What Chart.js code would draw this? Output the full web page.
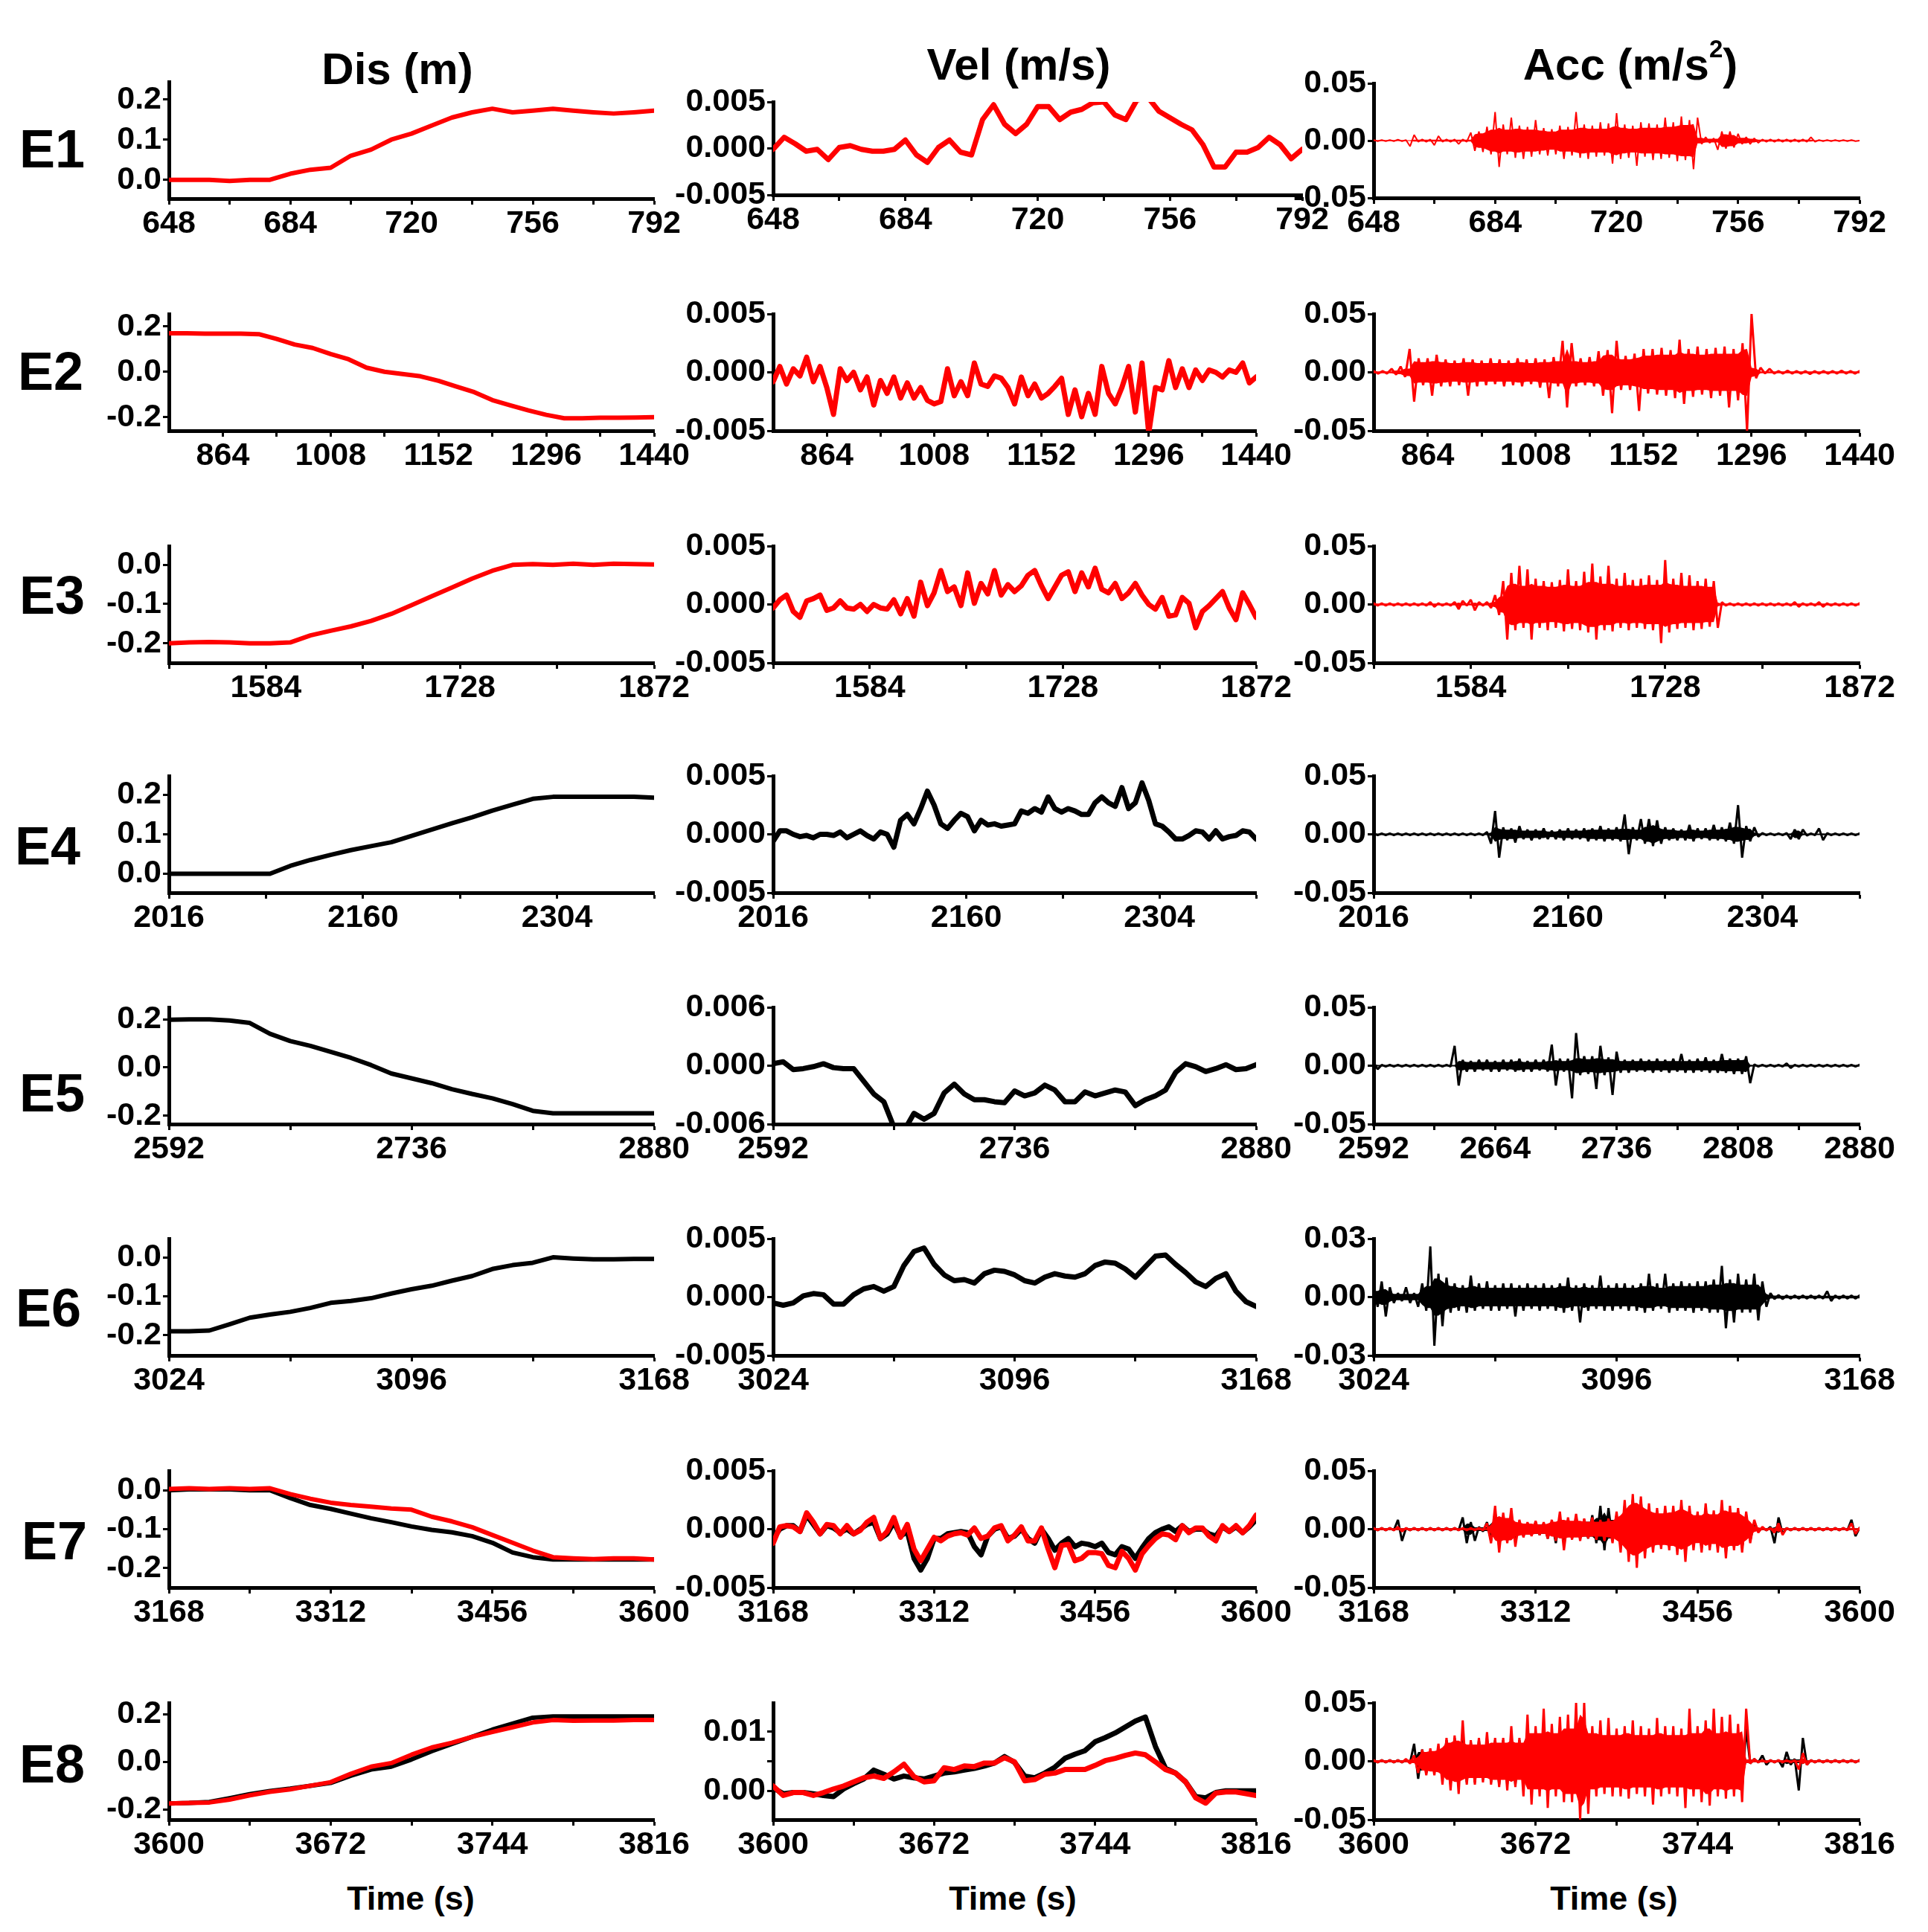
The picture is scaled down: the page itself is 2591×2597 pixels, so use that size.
<!DOCTYPE html>
<html>
<head>
<meta charset="utf-8">
<script src="https://cdn.jsdelivr.net/npm/chart.js@4.4.1/dist/chart.umd.min.js"></script>
<style>
    body { margin: 0; background: #fff; }
    #page { position: relative; width: 2591px; height: 2597px; background: #fff; overflow: hidden;
            font-family: "Liberation Sans", Arial, sans-serif; font-weight: bold; color: #000; }
    .lbl { position: absolute; transform: translate(-50%, -50%); white-space: nowrap; line-height: 1; }
    .lbl sup { font-size: 0.55em; vertical-align: 0.9em; line-height: 0; }
    canvas { position: absolute; }
</style>
</head>
<body>
<div id="page"></div>
<script>
const RED = "#ff0000";
const BLACK = "#000000";

const events = ["E1", "E2", "E3", "E4", "E5", "E6", "E7", "E8"];
const columnTitles = ["Dis (m)", "Vel (m/s)", "Acc (m/s<sup>2</sup>)"];
const xTitle = "Time (s)";

// time window of every event (s)
const timeRanges = [[648, 792], [792, 1440], [1512, 1872], [2016, 2376], [2592, 2880], [3024, 3168], [3168, 3600], [3600, 3816]];
const xMajorTicks = [
    [648, 684, 720, 756, 792], [864, 1008, 1152, 1296, 1440], [1584, 1728, 1872], [2016, 2160, 2304],
    [2592, 2736, 2880], [3024, 3096, 3168], [3168, 3312, 3456, 3600], [3600, 3672, 3744, 3816]
];
const xMinorTicks = [
    [666, 702, 738, 774], [936, 1080, 1224, 1368], [1512, 1656, 1800], [2088, 2232, 2376],
    [2664, 2808], [3060, 3132], [3240, 3384, 3528], [3636, 3708, 3780]
];
const accE5MajorTicks = [2592, 2664, 2736, 2808, 2880];
const accE5MinorTicks = [2628, 2700, 2772, 2844];

// y axes
const disRanges = [[-0.047, 0.244], [-0.26, 0.255], [-0.25, 0.048], [-0.048, 0.248], [-0.235, 0.25], [-0.252, 0.048], [-0.25, 0.05], [-0.242, 0.247]];
const disMajorTicks = [[0, 0.1, 0.2], [-0.2, 0, 0.2], [-0.2, -0.1, 0], [0, 0.1, 0.2], [-0.2, 0, 0.2], [-0.2, -0.1, 0], [-0.2, -0.1, 0], [-0.2, 0, 0.2]];
const disMinorTicks = [[0.05, 0.15], [-0.1, 0.1], [-0.15, -0.05], [0.05, 0.15], [-0.1, 0.1], [-0.15, -0.05], [-0.15, -0.05], [-0.1, 0.1]];
const velRanges = [[-0.005, 0.005], [-0.005, 0.005], [-0.005, 0.005], [-0.005, 0.005], [-0.006, 0.006], [-0.005, 0.005], [-0.005, 0.005], [-0.0049, 0.0149]];
const velMajorTicks = [[-0.005, 0, 0.005], [-0.005, 0, 0.005], [-0.005, 0, 0.005], [-0.005, 0, 0.005], [-0.006, 0, 0.006], [-0.005, 0, 0.005], [-0.005, 0, 0.005], [0, 0.01]];
const velMinorTicks = [[-0.0025, 0.0025], [-0.0025, 0.0025], [-0.0025, 0.0025], [-0.0025, 0.0025], [-0.003, 0.003], [-0.0025, 0.0025], [-0.0025, 0.0025], [0.005]];
const velDecimals = [3, 3, 3, 3, 3, 3, 3, 2];
const accRanges = [[-0.05, 0.05], [-0.05, 0.05], [-0.05, 0.05], [-0.05, 0.05], [-0.05, 0.05], [-0.03, 0.03], [-0.05, 0.05], [-0.05, 0.05]];
const accMajorTicks = [[-0.05, 0, 0.05], [-0.05, 0, 0.05], [-0.05, 0, 0.05], [-0.05, 0, 0.05], [-0.05, 0, 0.05], [-0.03, 0, 0.03], [-0.05, 0, 0.05], [-0.05, 0, 0.05]];
const accMinorTicks = [[-0.025, 0.025], [-0.025, 0.025], [-0.025, 0.025], [-0.025, 0.025], [-0.025, 0.025], [-0.015, 0.015], [-0.025, 0.025], [-0.025, 0.025]];

// displacement (m), evenly spaced over each time window
const disE1 = [0, 0, 0, -0.003, 0, 0, 0.015, 0.025, 0.03, 0.06, 0.075, 0.1, 0.115, 0.135, 0.155, 0.168, 0.177, 0.168, 0.172, 0.177, 0.172, 0.168, 0.165, 0.168, 0.172];
const disE2 = [0.17, 0.17, 0.168, 0.168, 0.168, 0.166, 0.145, 0.12, 0.105, 0.078, 0.055, 0.018, 0, -0.01, -0.02, -0.04, -0.065, -0.09, -0.125, -0.148, -0.17, -0.19, -0.205, -0.205, -0.203, -0.203, -0.202, -0.2];
const disE3 = [-0.2, -0.198, -0.197, -0.198, -0.2, -0.2, -0.198, -0.18, -0.168, -0.157, -0.143, -0.125, -0.103, -0.08, -0.058, -0.035, -0.015, 0, 0.002, 0, 0.003, 0, 0.003, 0.002, 0.001];
const disE4 = [0, 0, 0, 0, 0, 0, 0.02, 0.035, 0.048, 0.06, 0.07, 0.08, 0.096, 0.112, 0.128, 0.143, 0.16, 0.175, 0.19, 0.195, 0.195, 0.195, 0.195, 0.195, 0.193];
const disE5 = [0.198, 0.2, 0.2, 0.195, 0.185, 0.14, 0.11, 0.09, 0.065, 0.04, 0.01, -0.025, -0.045, -0.065, -0.09, -0.11, -0.128, -0.152, -0.18, -0.19, -0.19, -0.19, -0.19, -0.19, -0.19];
const disE6 = [-0.19, -0.19, -0.188, -0.172, -0.155, -0.147, -0.14, -0.13, -0.117, -0.112, -0.105, -0.093, -0.082, -0.073, -0.06, -0.048, -0.03, -0.02, -0.014, 0, -0.003, -0.005, -0.005, -0.004, -0.004];
const disE7Black = [0, 0.002, 0.002, 0.002, 0, 0, -0.02, -0.038, -0.048, -0.06, -0.072, -0.082, -0.093, -0.102, -0.108, -0.118, -0.135, -0.16, -0.172, -0.178, -0.178, -0.178, -0.178, -0.178, -0.178];
const disE7Red = [0.003, 0.005, 0.003, 0.005, 0.003, 0.005, -0.01, -0.022, -0.032, -0.038, -0.042, -0.047, -0.05, -0.068, -0.08, -0.095, -0.115, -0.135, -0.155, -0.172, -0.175, -0.177, -0.175, -0.175, -0.178];
const disE8Black = [-0.174, -0.172, -0.168, -0.152, -0.135, -0.122, -0.112, -0.1, -0.088, -0.058, -0.032, -0.02, 0.01, 0.045, 0.075, 0.105, 0.135, 0.16, 0.185, 0.19, 0.19, 0.19, 0.19, 0.19, 0.19];
const disE8Red = [-0.174, -0.172, -0.17, -0.158, -0.14, -0.125, -0.115, -0.1, -0.085, -0.05, -0.02, -0.005, 0.03, 0.06, 0.08, 0.105, 0.125, 0.145, 0.165, 0.175, 0.172, 0.173, 0.173, 0.175, 0.175];

// velocity (m/s)
const velE1 = [-0.0001, 0.0012, 0.0005, -0.0003, -0.0001, -0.0012, 0.0001, 0.0003, -0.0001, -0.0003, -0.0003, -0.0001, 0.0009, -0.0007, -0.0015, 0.0001, 0.0009, -0.0004, -0.0007, 0.0031, 0.0047, 0.0026, 0.0016, 0.0026, 0.0045, 0.0045, 0.0031, 0.0039, 0.0042, 0.0049, 0.005, 0.0036, 0.0031, 0.0052, 0.0055, 0.004, 0.0033, 0.0026, 0.002, 0.0004, -0.002, -0.002, -0.0004, -0.0004, 0.0001, 0.0012, 0.0004, -0.0011, -0.0001];
const velE2 = [-0.0008, 0.0005, -0.001, 0.0003, -0.0003, 0.0013, -0.0008, 0.0005, -0.0013, -0.0036,
    0.0003, -0.0007, 0, -0.0015, -0.0004, -0.0028, -0.0007, -0.0018, -0.0004, -0.0022,
    -0.0009, -0.0022, -0.0013, -0.0024, -0.0027, -0.0025, 0.0003, -0.002, -0.0008, -0.002,
    0.0008, -0.001, -0.0012, -0.0003, -0.0005, -0.0013, -0.0027, -0.0004, -0.002, -0.001,
    -0.0022, -0.0018, -0.0012, -0.0005, -0.0036, -0.0015, -0.0038, -0.0018, -0.0036, 0.0005,
    -0.0018, -0.0027, -0.0013, 0.0005, -0.0034, 0.0008, -0.0052, -0.0013, -0.0015, 0.001,
    -0.0013, 0.0003, -0.0013, 0.0002, -0.0007, 0.0002, 0, -0.0004, 0.0002, 0,
    0.0008, -0.0009, -0.0004];
const velE3 = [-0.0003, 0.0004, 0.0008, -0.0006, -0.0011, 0.0003, 0.0005, 0.0008, -0.0005, -0.0003,
    0.0003, -0.0003, -0.0004, 0, -0.0006, 0, -0.0003, -0.0004, 0.0004, -0.0008,
    0.0005, -0.001, 0.0019, -0.0001, 0.001, 0.0029, 0.0011, 0.0015, -0.0001, 0.0027,
    0.0001, 0.0018, 0.0009, 0.0029, 0.0008, 0.0017, 0.0011, 0.0016, 0.0025, 0.0029,
    0.0016, 0.0005, 0.0015, 0.0025, 0.0028, 0.0011, 0.0027, 0.0015, 0.0031, 0.0013,
    0.001, 0.0018, 0.0005, 0.001, 0.0018, 0.0008, 0, -0.0004, 0.0006, -0.001,
    -0.0009, 0.0006, 0.0001, -0.002, -0.0006, -0.0001, 0.0005, 0.0011, -0.0003, -0.0013,
    0.001, 0, -0.0011];
const velE4 = [-0.0006, 0.0003, 0.0003, 0, -0.0002, -0.0001, -0.0003, 0, 0, -0.0001,
    0.0002, -0.0003, 0, 0.0003, -0.0001, -0.0004, 0.0002, 0, -0.0011, 0.0012,
    0.0017, 0.0009, 0.0022, 0.0037, 0.0025, 0.0009, 0.0005, 0.0012, 0.0018, 0.0015,
    0.0003, 0.0012, 0.0008, 0.0009, 0.0007, 0.0008, 0.0009, 0.002, 0.0018, 0.0022,
    0.0019, 0.0032, 0.0022, 0.0019, 0.0022, 0.002, 0.0017, 0.0017, 0.0027, 0.0032,
    0.0027, 0.0024, 0.004, 0.0022, 0.0027, 0.0044, 0.0029, 0.0009, 0.0007, 0.0002,
    -0.0004, -0.0004, -0.0001, 0.0003, 0.0002, -0.0004, 0.0003, -0.0004, -0.0002, -0.0001,
    0.0003, 0.0002, -0.0004];
const velE5 = [0.0002, 0.0004, -0.0004, -0.0003, -0.0001, 0.0002, -0.0002, -0.0003, -0.0003, -0.0016,
    -0.0029, -0.0037, -0.0063, -0.0067, -0.0049, -0.0055, -0.0049, -0.0028, -0.0019, -0.0029,
    -0.0035, -0.0035, -0.0037, -0.0038, -0.0026, -0.0031, -0.0028, -0.002, -0.0025, -0.0037,
    -0.0037, -0.0027, -0.0031, -0.0028, -0.0025, -0.0027, -0.0041, -0.0035, -0.0031, -0.0025,
    -0.0007, 0.0002, -0.0001, -0.0006, -0.0003, 0.0001, -0.0004, -0.0003, 0.0001];
const velE6 = [-0.0005, -0.0007, -0.0005, 0.0001, 0.0003, 0.0002, -0.0006, -0.0006, 0.0002, 0.0007,
    0.0009, 0.0005, 0.0009, 0.0027, 0.0039, 0.0042, 0.0028, 0.0019, 0.0014, 0.0015,
    0.0012, 0.002, 0.0023, 0.0022, 0.0019, 0.0014, 0.0012, 0.0017, 0.002, 0.0018,
    0.0017, 0.002, 0.0027, 0.003, 0.0029, 0.0024, 0.0017, 0.0026, 0.0035, 0.0036,
    0.0028, 0.0021, 0.0013, 0.0009, 0.0016, 0.002, 0.0005, -0.0004, -0.0008];
const velE7Red = [-0.0012, 0.0002, 0.0003, 0.0002, -0.0002, 0.0014, 0.0006, -0.0004, 0.0004, 0.0003,
    -0.0004, 0.0003, -0.0004, -0.0001, 0.0006, 0.001, -0.0008, -0.0002, 0.001, -0.0007,
    0.0004, -0.0017, -0.0027, -0.0017, -0.0007, -0.001, -0.0006, -0.0004, -0.0003, -0.0005,
    0.0001, -0.0008, -0.0006, 0.0001, 0.0003, -0.001, -0.0005, 0.0002, -0.001, -0.001,
    0.0001, -0.0017, -0.0033, -0.0014, -0.0013, -0.0027, -0.0025, -0.002, -0.002, -0.0021,
    -0.0031, -0.0033, -0.0019, -0.0025, -0.0035, -0.0021, -0.0014, -0.0008, -0.0004, -0.0005,
    -0.0009, 0.0003, -0.0003, 0.0001, 0.0001, -0.0006, -0.001, 0.0003, -0.0002, 0.0003,
    -0.0003, 0.0003, 0.0012];
const velE7Black = [-0.0008, 0, 0.0003, 0.0003, -0.0002, 0.0012, 0.0004, -0.0004, 0.0003, 0.0001,
    -0.0003, 0, -0.0004, 0, 0.0004, 0.0006, -0.0008, -0.0004, 0.0006, -0.0006,
    -0.0002, -0.0025, -0.0035, -0.0025, -0.0008, -0.0008, -0.0004, -0.0003, -0.0002, -0.0003,
    -0.0015, -0.0022, -0.0006, 0, 0.0002, -0.0008, -0.0006, 0, -0.0008, -0.0012,
    0, -0.0008, -0.0018, -0.0012, -0.0008, -0.0015, -0.0012, -0.0013, -0.0015, -0.0012,
    -0.002, -0.0022, -0.0015, -0.0017, -0.0025, -0.0016, -0.0008, -0.0003, 0, 0.0002,
    -0.0002, 0.0003, -0.0002, 0, 0, -0.0004, -0.0006, 0.0002, -0.0002, 0.0002,
    -0.0003, 0.0002, 0.0008];
const velE8Red = [0.0008, -0.0008, -0.0003, -0.0003, -0.0008, -0.0003, 0.0003, 0.0008, 0.0015, 0.0022,
    0.0025, 0.0021, 0.0032, 0.0045, 0.0024, 0.0015, 0.0017, 0.0039, 0.0036, 0.0042,
    0.0041, 0.0047, 0.0047, 0.0056, 0.0049, 0.0017, 0.0019, 0.0028, 0.003, 0.0036,
    0.0036, 0.0036, 0.0043, 0.0051, 0.0055, 0.006, 0.0064, 0.0061, 0.0049, 0.0036,
    0.003, 0.0015, -0.0012, -0.0021, -0.0004, -0.0002, -0.0002, -0.0005, -0.0008];
const velE8Black = [0.0005, -0.0005, -0.0003, -0.0003, -0.0005, -0.0008, -0.001, 0.0003, 0.0012, 0.002,
    0.0035, 0.0028, 0.002, 0.0025, 0.0022, 0.002, 0.0025, 0.003, 0.0032, 0.0035,
    0.0038, 0.0042, 0.0047, 0.0058, 0.0048, 0.0025, 0.0022, 0.003, 0.004, 0.0055,
    0.0062, 0.0068, 0.0083, 0.009, 0.0098, 0.0108, 0.0118, 0.0125, 0.0075, 0.0038,
    0.003, 0.0015, -0.001, -0.0012, -0.0003, 0, 0, 0, 0];

// acceleration (m/s2)
const accE1 = [0.0005, -0.0005, 0.0005, -0.0005, 0.0005, -0.0005, 0.0008, -0.0005, 0.0005, -0.005,
    0.005, -0.001, 0.001, -0.001, 0.001, -0.004, 0.004, -0.001, 0.001, -0.001,
    0.001, -0.003, 0.001, -0.001, 0.007, -0.009, 0.008, -0.01, 0.012, -0.012,
    0.025, -0.023, 0.014, -0.012, 0.02, -0.015, 0.013, -0.016, 0.012, -0.014,
    0.018, -0.012, 0.011, -0.013, 0.01, -0.012, 0.013, -0.016, 0.012, -0.013,
    0.025, -0.015, 0.014, -0.016, 0.013, -0.014, 0.016, -0.013, 0.015, -0.02,
    0.024, -0.016, 0.014, -0.015, 0.013, -0.022, 0.016, -0.014, 0.015, -0.017,
    0.014, -0.016, 0.02, -0.015, 0.016, -0.018, 0.021, -0.017, 0.018, -0.025,
    0.02, -0.003, 0.003, -0.002, 0.002, -0.008, 0.008, -0.007, 0.008, -0.006,
    0.006, -0.003, 0.003, -0.003, 0.002, -0.002, 0.001, -0.001, 0.001, -0.001,
    0.001, -0.001, 0.001, -0.001, 0.001, -0.001, 0.001, -0.001, 0.003, -0.001,
    0.0005, -0.0005, 0.0005, -0.0005, 0.0005, -0.0005, 0.0005, -0.0005, 0.0005, -0.0005,
    0];
const accE2 = [0.001, -0.001, 0.001, -0.001, 0.003, -0.002, 0.005, -0.004, 0.02, -0.025,
    0.012, -0.011, 0.012, -0.02, 0.015, -0.012, 0.011, -0.012, 0.01, -0.011,
    0.012, -0.02, 0.011, -0.012, 0.01, -0.011, 0.012, -0.01, 0.011, -0.012,
    0.01, -0.011, 0.012, -0.012, 0.011, -0.01, 0.012, -0.013, 0.011, -0.022,
    0.013, -0.012, 0.027, -0.03, 0.025, -0.012, 0.012, -0.011, 0.013, -0.012,
    0.018, -0.02, 0.019, -0.035, 0.027, -0.015, 0.014, -0.015, 0.016, -0.033,
    0.02, -0.018, 0.02, -0.019, 0.021, -0.02, 0.019, -0.022, 0.028, -0.027,
    0.02, -0.021, 0.022, -0.019, 0.02, -0.022, 0.021, -0.02, 0.022, -0.03,
    0.02, -0.024, 0.025, -0.05, 0.05, -0.005, 0.004, -0.001, 0.003, -0.001,
    0.001, -0.001, 0.0015, -0.001, 0.001, -0.001, 0.001, -0.0015, 0.001, -0.001,
    0.001, -0.001, 0.001, -0.001, 0.0015, -0.001, 0.001, -0.001, 0.001];
const accE3 = [0.001, -0.001, 0.001, -0.001, 0.001, -0.001, 0.001, -0.001, 0.001, -0.001,
    0.001, -0.001, 0.001, -0.001, 0.002, -0.002, 0.001, -0.001, 0.001, -0.001,
    0.002, -0.004, 0.003, -0.001, 0.004, -0.005, 0.002, -0.001, 0.002, -0.003,
    0.008, -0.009, 0.02, -0.03, 0.027, -0.022, 0.033, -0.02, 0.03, -0.03,
    0.022, -0.02, 0.02, -0.022, 0.019, -0.02, 0.021, -0.023, 0.03, -0.021,
    0.02, -0.022, 0.028, -0.024, 0.035, -0.03, 0.024, -0.022, 0.033, -0.023,
    0.022, -0.02, 0.027, -0.022, 0.021, -0.02, 0.022, -0.021, 0.025, -0.022,
    0.021, -0.033, 0.038, -0.024, 0.022, -0.021, 0.027, -0.02, 0.025, -0.022,
    0.02, -0.021, 0.022, -0.019, 0.02, -0.02, 0.002, -0.001, 0.001, -0.001,
    0.001, -0.001, 0.001, -0.001, 0.001, -0.001, 0.001, -0.001, 0.001, -0.001,
    0.001, -0.001, 0.001, -0.001, 0.002, -0.002, 0.001, -0.001, 0.001, -0.001,
    0.002, -0.002, 0.001, -0.001, 0.001, -0.001, 0.001, -0.001, 0.001, -0.001,
    0.001];
const accE4 = [0.0007, -0.0007, 0.0007, -0.0007, 0.0007, -0.0007, 0.0007, -0.0007, 0.0007, -0.0007,
    0.0007, -0.0007, 0.0007, -0.0007, 0.0007, -0.0007, 0.0007, -0.0007, 0.0007, -0.0007,
    0.0007, -0.0007, 0.0007, -0.0007, 0.0007, -0.0007, 0.0007, -0.0007, 0.002, -0.008,
    0.02, -0.02, 0.006, -0.005, 0.005, -0.007, 0.007, -0.004, 0.004, -0.005,
    0.004, -0.004, 0.005, -0.004, 0.003, -0.004, 0.004, -0.005, 0.005, -0.004,
    0.004, -0.004, 0.005, -0.006, 0.005, -0.005, 0.007, -0.006, 0.005, -0.005,
    0.006, -0.006, 0.017, -0.017, 0.006, -0.005, 0.013, -0.008, 0.013, -0.01,
    0.012, -0.008, 0.006, -0.005, 0.005, -0.005, 0.004, -0.005, 0.008, -0.006,
    0.005, -0.004, 0.005, -0.005, 0.008, -0.005, 0.006, -0.006, 0.01, -0.008,
    0.025, -0.02, 0.007, -0.006, 0.006, -0.002, 0.001, -0.0007, 0.0007, -0.0007,
    0.0007, -0.0007, 0.001, -0.004, 0.004, -0.004, 0.004, -0.001, 0.0007, -0.0007,
    0.005, -0.005, 0.001, -0.0007, 0.0007, -0.0007, 0.0007, -0.0007, 0.0007, -0.0007,
    0.0007];
const accE5 = [0.002, -0.003, 0.0007, -0.0007, 0.0007, -0.0007, 0.0007, -0.0007, 0.0007, -0.0007,
    0.0007, -0.0007, 0.0007, -0.0007, 0.0007, -0.0007, 0.0007, -0.0007, 0.0007, -0.0007,
    0.017, -0.017, 0.005, -0.005, 0.004, -0.005, 0.005, -0.004, 0.005, -0.005,
    0.004, -0.005, 0.005, -0.004, 0.005, -0.005, 0.006, -0.005, 0.004, -0.005,
    0.005, -0.004, 0.005, -0.005, 0.018, -0.017, 0.006, -0.005, 0.006, -0.028,
    0.028, -0.008, 0.008, -0.007, 0.008, -0.02, 0.017, -0.008, 0.007, -0.025,
    0.012, -0.006, 0.005, -0.006, 0.005, -0.005, 0.006, -0.005, 0.005, -0.006,
    0.006, -0.005, 0.005, -0.006, 0.006, -0.005, 0.01, -0.006, 0.005, -0.006,
    0.006, -0.005, 0.007, -0.006, 0.005, -0.006, 0.01, -0.006, 0.006, -0.007,
    0.006, -0.007, 0.008, -0.015, 0.001, -0.0007, 0.0007, -0.0007, 0.0007, -0.0007,
    0.0007, -0.0007, 0.002, -0.002, 0.0007, -0.0007, 0.0007, -0.0007, 0.0007, -0.0007,
    0.0007, -0.0007, 0.0007, -0.0007, 0.0007, -0.0007, 0.0007, -0.0007, 0.0007, -0.0007,
    0.0007];
const accE6 = [0.004, -0.005, 0.008, -0.01, 0.005, -0.003, 0.002, -0.002, 0.005, -0.003,
    0.002, -0.005, 0.007, -0.007, 0.026, -0.025, 0.012, -0.015, 0.01, -0.008,
    0.007, -0.007, 0.006, -0.008, 0.011, -0.007, 0.007, -0.006, 0.008, -0.007,
    0.006, -0.007, 0.007, -0.006, 0.007, -0.01, 0.006, -0.007, 0.007, -0.006,
    0.006, -0.007, 0.007, -0.006, 0.006, -0.007, 0.007, -0.008, 0.01, -0.007,
    0.006, -0.013, 0.007, -0.007, 0.006, -0.006, 0.011, -0.007, 0.006, -0.007,
    0.007, -0.006, 0.007, -0.007, 0.006, -0.007, 0.007, -0.008, 0.012, -0.007,
    0.007, -0.006, 0.012, -0.008, 0.007, -0.007, 0.008, -0.007, 0.007, -0.008,
    0.008, -0.007, 0.008, -0.008, 0.009, -0.008, 0.016, -0.016, 0.009, -0.013,
    0.012, -0.008, 0.009, -0.008, 0.012, -0.012, 0.008, -0.005, 0.002, -0.001,
    0.001, -0.001, 0.0008, -0.0008, 0.0008, -0.0008, 0.0008, -0.0008, 0.0008, -0.0008,
    0.0008, -0.0008, 0.003, -0.002, 0.0008, -0.0008, 0.0008, -0.0008, 0.0008, -0.0008,
    0.0008];
const accE7Red = [0.001, -0.001, 0.001, -0.001, 0.001, -0.001, 0.002, -0.002, 0.001, -0.001,
    0.001, -0.001, 0.001, -0.001, 0.001, -0.001, 0.001, -0.001, 0.001, -0.001,
    0.001, -0.001, 0.001, -0.001, 0.001, -0.001, 0.001, -0.001, 0.005, -0.012,
    0.02, -0.02, 0.014, -0.012, 0.018, -0.015, 0.008, -0.007, 0.006, -0.006,
    0.007, -0.005, 0.006, -0.008, 0.008, -0.01, 0.015, -0.018, 0.01, -0.009,
    0.013, -0.01, 0.009, -0.008, 0.01, -0.009, 0.008, -0.01, 0.009, -0.012,
    0.015, -0.02, 0.025, -0.028, 0.03, -0.033, 0.028, -0.025, 0.022, -0.02,
    0.018, -0.017, 0.02, -0.018, 0.02, -0.022, 0.025, -0.028, 0.02, -0.018,
    0.015, -0.02, 0.022, -0.018, 0.016, -0.02, 0.025, -0.025, 0.02, -0.018,
    0.018, -0.02, 0.015, -0.012, 0.008, -0.003, 0.002, -0.001, 0.001, -0.003,
    0.005, -0.005, 0.001, -0.001, 0.001, -0.001, 0.001, -0.001, 0.001, -0.001,
    0.001, -0.001, 0.001, -0.001, 0.001, -0.001, 0.001, -0.001, 0.005, -0.004,
    0.001];
const accE7Black = [0.001, -0.001, 0.001, -0.001, 0.001, -0.001, 0.008, -0.01, 0.001, -0.001,
    0.001, -0.001, 0.001, -0.001, 0.001, -0.001, 0.001, -0.001, 0.001, -0.001,
    0.001, -0.001, 0.01, -0.012, 0.006, -0.01, 0.002, -0.002, 0.006, -0.01,
    0.015, -0.015, 0.01, -0.01, 0.012, -0.01, 0.006, -0.006, 0.005, -0.005,
    0.006, -0.005, 0.005, -0.008, 0.006, -0.012, 0.01, -0.012, 0.008, -0.008,
    0.01, -0.008, 0.008, -0.008, 0.012, -0.012, 0.02, -0.018, 0.018, -0.01,
    0.012, -0.015, 0.02, -0.022, 0.025, -0.025, 0.025, -0.02, 0.018, -0.016,
    0.015, -0.014, 0.016, -0.015, 0.016, -0.018, 0.02, -0.022, 0.016, -0.015,
    0.012, -0.016, 0.018, -0.015, 0.013, -0.016, 0.02, -0.02, 0.016, -0.015,
    0.015, -0.016, 0.012, -0.01, 0.006, -0.002, 0.001, -0.001, 0.002, -0.012,
    0.01, -0.004, 0.001, -0.001, 0.001, -0.001, 0.001, -0.001, 0.001, -0.001,
    0.001, -0.001, 0.001, -0.001, 0.001, -0.001, 0.001, -0.001, 0.008, -0.006,
    0.001];
const accE8Red = [0.001, -0.001, 0.001, -0.001, 0.001, -0.001, 0.001, -0.001, 0.002, -0.002,
    0.005, -0.01, 0.01, -0.012, 0.011, -0.012, 0.015, -0.02, 0.02, -0.025,
    0.022, -0.028, 0.035, -0.02, 0.018, -0.02, 0.02, -0.018, 0.025, -0.02,
    0.02, -0.022, 0.02, -0.025, 0.03, -0.022, 0.02, -0.03, 0.04, -0.037,
    0.03, -0.03, 0.045, -0.04, 0.032, -0.03, 0.038, -0.035, 0.04, -0.035,
    0.05, -0.05, 0.05, -0.045, 0.03, -0.03, 0.035, -0.028, 0.037, -0.03,
    0.028, -0.03, 0.03, -0.032, 0.035, -0.028, 0.03, -0.03, 0.028, -0.037,
    0.037, -0.03, 0.03, -0.028, 0.03, -0.03, 0.028, -0.04, 0.045, -0.03,
    0.03, -0.035, 0.035, -0.038, 0.045, -0.03, 0.038, -0.032, 0.04, -0.03,
    0.032, -0.035, 0.045, -0.002, 0.002, -0.001, 0.001, -0.001, 0.001, -0.001,
    0.001, -0.001, 0.001, -0.001, 0.001, -0.007, 0.007, -0.003, 0.001, -0.001,
    0.001, -0.001, 0.001, -0.001, 0.001, -0.001, 0.001, -0.001, 0.001, -0.001,
    0.001];
const accE8Black = [0.001, -0.001, 0.001, -0.001, 0.001, -0.001, 0.001, -0.001, 0.001, -0.001,
    0.015, -0.015, 0.01, -0.01, 0.008, -0.008, 0.008, -0.008, 0.018, -0.02,
    0.02, -0.02, 0.022, -0.018, 0.016, -0.018, 0.018, -0.016, 0.02, -0.018,
    0.018, -0.02, 0.018, -0.02, 0.022, -0.02, 0.018, -0.022, 0.025, -0.025,
    0.022, -0.022, 0.028, -0.025, 0.022, -0.02, 0.025, -0.022, 0.025, -0.022,
    0.03, -0.03, 0.03, -0.028, 0.022, -0.02, 0.024, -0.02, 0.025, -0.02,
    0.02, -0.022, 0.02, -0.022, 0.024, -0.02, 0.02, -0.022, 0.02, -0.024,
    0.025, -0.02, 0.02, -0.02, 0.022, -0.02, 0.02, -0.025, 0.028, -0.022,
    0.02, -0.024, 0.024, -0.025, 0.028, -0.02, 0.025, -0.022, 0.025, -0.02,
    0.022, -0.024, 0.028, -0.002, 0.002, -0.001, 0.005, -0.003, 0.001, -0.001,
    0.001, -0.005, 0.008, -0.003, 0.002, -0.025, 0.02, -0.003, 0.001, -0.001,
    0.001, -0.001, 0.001, -0.001, 0.001, -0.001, 0.001, -0.001, 0.001, -0.001,
    0.001];

// red series first so it is painted above black
const disSeries = [
    [[disE1, RED]], [[disE2, RED]], [[disE3, RED]], [[disE4, BLACK]], [[disE5, BLACK]], [[disE6, BLACK]],
    [[disE7Red, RED], [disE7Black, BLACK]], [[disE8Red, RED], [disE8Black, BLACK]]
];
const velSeries = [
    [[velE1, RED]], [[velE2, RED]], [[velE3, RED]], [[velE4, BLACK]], [[velE5, BLACK]], [[velE6, BLACK]],
    [[velE7Red, RED], [velE7Black, BLACK]], [[velE8Red, RED], [velE8Black, BLACK]]
];
const accSeries = [
    [[accE1, RED]], [[accE2, RED]], [[accE3, RED]], [[accE4, BLACK]], [[accE5, BLACK]], [[accE6, BLACK]],
    [[accE7Red, RED], [accE7Black, BLACK]], [[accE8Red, RED], [accE8Black, BLACK]]
];

// page layout (px)
const colLeft = [227, 1039, 1846];
const colRight = [879, 1688, 2499];
const rowTop = [110, 422, 734, 1043, 1354, 1665, 1977, 2289];
const rowBottom = [267, 579, 891, 1200, 1511, 1822, 2134, 2446];
const rowLabelPos = [[70, 200], [68, 499], [70, 800], [64, 1137], [70, 1469], [65, 1758], [73, 2071], [70, 2371]];
const titlePos = [[534, 93], [1369, 87], [2191, 87]];
const timeLabelPos = [[552, 2551], [1361, 2551], [2169, 2551]];

const PAD_L = 170, PAD_R = 60, PAD_T = 30, PAD_B = 70;
const FONT = '"Liberation Sans", Arial, sans-serif';
const page = document.getElementById("page");

function addText(html, x, y, size) {
    const el = document.createElement("div");
    el.className = "lbl";
    el.style.left = x + "px";
    el.style.top = y + "px";
    el.style.fontSize = size + "px";
    el.innerHTML = html;
    page.appendChild(el);
}

function toPoints(range, values) {
    const step = (range[1] - range[0]) / (values.length - 1);
    return values.map((v, i) => ({ x: range[0] + i * step, y: v }));
}

// the steady part of a noisy trace: smallest swing among neighbours
function steadyBand(values) {
    const n = values.length;
    return values.map((v, i) => {
        const a = Math.abs(values[Math.max(i - 1, 0)]);
        const c = Math.abs(values[Math.min(i + 1, n - 1)]);
        return Math.min(a, Math.abs(v), c) * 0.8;
    });
}

function isMajor(list, v) {
    return list.some(m => Math.abs(m - v) < 1e-9);
}

function panelBox(row, col) {
    if (row === 0 && col === 1) return { left: 1039, right: 1750, top: 137, bottom: 262 };
    if (row === 0 && col === 2) return { left: colLeft[2], right: colRight[2], top: 112, bottom: 266 };
    return { left: colLeft[col], right: colRight[col], top: rowTop[row], bottom: rowBottom[row] };
}

function buildDatasets(row, series, lineWidth, noisy) {
    const out = [];
    series.forEach(([values, color]) => {
        out.push({
            data: toPoints(timeRanges[row], values),
            borderColor: color,
            backgroundColor: color,
            borderWidth: lineWidth,
            borderJoinStyle: noisy ? "bevel" : "round",
            borderCapStyle: "round",
            pointRadius: 0,
            tension: 0,
            fill: false,
            clip: 0
        });
        if (noisy) {
            const band = steadyBand(values);
            out.push({
                data: toPoints(timeRanges[row], band),
                borderWidth: 0, backgroundColor: color, pointRadius: 0, tension: 0, fill: "+1", clip: 0
            });
            out.push({
                data: toPoints(timeRanges[row], band.map(v => -v)),
                borderWidth: 0, backgroundColor: color, pointRadius: 0, tension: 0, fill: false, clip: 0
            });
        }
    });
    return out;
}

function addPanel(row, col, series, yRange, yMajor, yMinor, decimals, lineWidth, noisy) {
    const box = panelBox(row, col);
    const canvas = document.createElement("canvas");
    const w = box.right - box.left + PAD_L + PAD_R;
    const h = box.bottom - box.top + PAD_T + PAD_B;
    canvas.width = w;
    canvas.height = h;
    canvas.style.left = (box.left - PAD_L) + "px";
    canvas.style.top = (box.top - PAD_T) + "px";
    canvas.style.width = w + "px";
    canvas.style.height = h + "px";
    page.appendChild(canvas);

    const accE5 = col === 2 && row === 4;
    const xMajor = accE5 ? accE5MajorTicks : xMajorTicks[row];
    const xMinor = accE5 ? accE5MinorTicks : xMinorTicks[row];
    const xTicks = xMajor.concat(xMinor).sort((a, b) => a - b);
    const yTicks = yMajor.concat(yMinor).sort((a, b) => a - b);

    const tickFont = { family: FONT, size: 43, weight: "bold" };
    const grid = { drawOnChartArea: false, drawTicks: true, tickLength: 8, tickWidth: 3, tickColor: "#000" };
    const border = { display: true, color: "#000", width: 5 };

    new Chart(canvas, {
        type: "line",
        data: { datasets: buildDatasets(row, series, lineWidth, noisy) },
        options: {
            responsive: false,
            animation: false,
            devicePixelRatio: 1,
            events: [],
            layout: { padding: { left: 0, right: PAD_R, top: PAD_T, bottom: 0 } },
            plugins: { legend: { display: false }, tooltip: { enabled: false } },
            scales: {
                x: {
                    type: "linear",
                    min: timeRanges[row][0],
                    max: timeRanges[row][1],
                    afterFit: (s) => { s.height = PAD_B; },
                    afterBuildTicks: (s) => { s.ticks = xTicks.map(v => ({ value: v })); },
                    ticks: {
                        autoSkip: false, maxRotation: 0, minRotation: 0, padding: 0,
                        color: "#000", font: tickFont,
                        callback: (v) => isMajor(xMajor, v) ? String(v) : ""
                    },
                    grid: grid,
                    border: border
                },
                y: {
                    min: yRange[0],
                    max: yRange[1],
                    afterFit: (s) => { s.width = PAD_L; },
                    afterBuildTicks: (s) => { s.ticks = yTicks.map(v => ({ value: v })); },
                    ticks: {
                        padding: 2, color: "#000", font: tickFont,
                        callback: (v) => isMajor(yMajor, v) ? v.toFixed(decimals) : ""
                    },
                    grid: grid,
                    border: border
                }
            }
        }
    });
}

events.forEach((name, row) => {
    addPanel(row, 0, disSeries[row], disRanges[row], disMajorTicks[row], disMinorTicks[row], 1, 6, false);
    addPanel(row, 1, velSeries[row], velRanges[row], velMajorTicks[row], velMinorTicks[row], velDecimals[row], 7, false);
    addPanel(row, 2, accSeries[row], accRanges[row], accMajorTicks[row], accMinorTicks[row], 2, row === 0 ? 2 : 3, true);
    addText(name, rowLabelPos[row][0], rowLabelPos[row][1], 72);
});

columnTitles.forEach((t, i) => addText(t, titlePos[i][0], titlePos[i][1], 60));
timeLabelPos.forEach(p => addText(xTitle, p[0], p[1], 45));
</script>
</body>
</html>
